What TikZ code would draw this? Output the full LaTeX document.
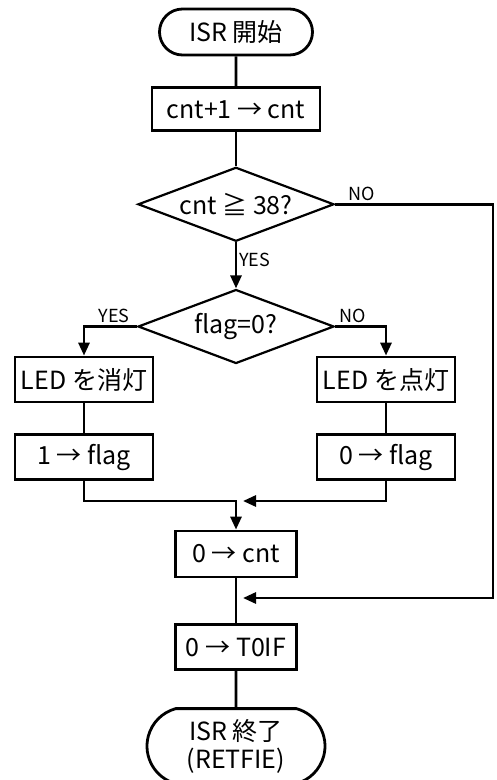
\documentclass[tikz,border=0pt]{standalone}
\usepackage{fontspec}
\setmainfont{Noto Sans CJK JP}
\usetikzlibrary{positioning, arrows.meta, shapes.geometric, shapes.misc}

\begin{document}
\begin{tikzpicture}[
    x=1pt, y=1pt,
    >={Triangle[length=13pt, width=11pt]},
    line width=2.8pt,
    every node/.style={font=\fontsize{25}{28}\selectfont},
    term/.style={
      rounded rectangle, draw, minimum width=155pt, minimum height=46pt,
      inner sep=1pt, align=center
    },
    proc/.style={
      rectangle, draw, minimum width=138pt, minimum height=45pt,
      inner sep=1pt, align=center
    },
    decision/.style={
      diamond, draw, aspect=2.6, inner sep=0pt,
      minimum width=196pt, minimum height=74pt, line width=2.2pt
    },
    lbl/.style={font=\fontsize{18}{20}\selectfont, inner sep=2pt},
    arr/.style={->},
  ]
  \useasboundingbox (0,0) rectangle (496,-780);

  % ============ Main column ============
  \node[term] (start) at (236,-32) {ISR 開始};
  \node[proc, minimum width=168pt, minimum height=43pt, below=30pt of start] (inc)
    {cnt+1 → cnt};
  \node[decision, below=34pt of inc]  (dia1) {cnt ≧ 38?};
  \node[decision, below=46pt of dia1] (dia2) {flag=0?};

  % ============ Branches ============
  \node[proc] (ledoff) at (84,-379.5) {LED を消灯};
  \node[proc] (ledon)  at (386,-379.5) {LED を点灯};
  \node[proc, below=30pt of ledoff] (flag1) {1 → flag};
  \node[proc, below=30pt of ledon]  (flag0) {0 → flag};

  % ============ Tail ============
  \coordinate (j1) at (236,-501);
  \node[proc, minimum width=121pt, minimum height=46pt] (clr) at (236,-554) {0 → cnt};
  \node[proc, minimum width=121pt, below=45pt of clr] (toif) {0 → T0IF};
  \node[term, minimum width=180pt, minimum height=75pt,
        rounded rectangle arc length=150, below=36pt of toif] (stop)
    {ISR 終了\\(RETFIE)};
  \coordinate (j2) at (236,-598);
  \coordinate (rx) at (493,0);

  % ============ Connectors ============
  \draw (start) -- (inc);
  \draw (inc) -- (dia1);
  \draw[arr] (dia1.south) -- node[lbl, right, pos=0.37] {YES} (dia2.north);

  % cnt < 38: skip to T0IF
  \draw[arr, shorten >=7pt] (dia1.east) -- node[lbl, above, pos=0.17] {NO}
    (dia1.east -| rx) -- (rx |- j2) -- (j2);

  % flag branches
  \draw[arr] (dia2.west) -- node[lbl, above, pos=0.43] {YES}
    (dia2.west -| ledoff) -- (ledoff.north);
  \draw[arr] (dia2.east) -- node[lbl, above, pos=0.35] {NO}
    (dia2.east -| ledon) -- (ledon.north);
  \draw (ledoff) -- (flag1);
  \draw (ledon) -- (flag0);

  % merge
  \draw[arr] (flag1.south) |- (j1) -- (clr.north);
  \draw[arr, shorten >=7pt] (flag0.south) |- (j1);

  \draw (clr) -- (toif);
  \draw (toif) -- (stop);

\end{tikzpicture}
\end{document}
